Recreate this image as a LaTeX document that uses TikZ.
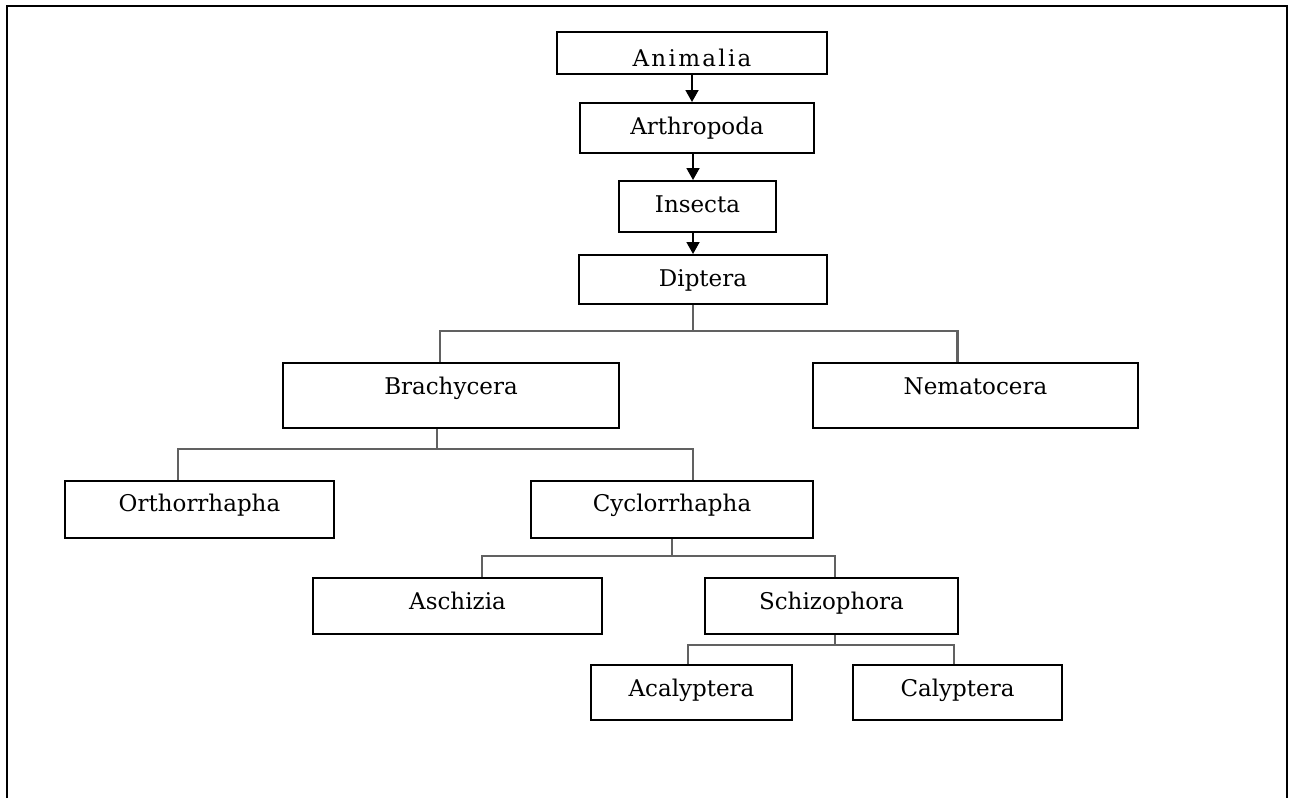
\documentclass[tikz,border=0pt]{standalone}
\usepackage{fontspec}
\setmainfont{DejaVu Serif}
\usepackage{tikz}
\usetikzlibrary{arrows.meta}

\begin{document}
\begin{tikzpicture}[x=1pt, y=-1pt,
    taxon/.style={draw=black, line width=2pt, inner sep=0pt, anchor=north,
        font=\fontsize{23pt}{27pt}\selectfont},
    step arrow/.style={line width=1.8pt, -{Triangle[width=13pt,length=12pt]}},
    branch/.style={draw=black!62, line width=2.6pt}]
    \useasboundingbox (0,0) rectangle (1289,798);

    % Frame (open at the bottom)
    \draw[line width=2.4pt] (7,798) -- (7,6) -- (1287,6) -- (1287,798);

    % Main line
    \node[taxon, minimum width=270pt, text height=34pt, text depth=8pt] (anim) at (692,31)
        {\addfontfeature{LetterSpace=10}Animalia};
    \node[taxon, minimum width=234pt, text height=31pt, text depth=19pt] (arth) at (697,102) {Arthropoda};
    \node[taxon, minimum width=157pt, text height=31pt, text depth=20pt] (ins) at (697.5,180) {Insecta};
    \node[taxon, minimum width=248pt, text height=31pt, text depth=18pt] (dipt) at (703,254) {Diptera};

    \draw[step arrow] (anim.south) -- (anim.south |- arth.north);
    \draw[step arrow] ([xshift=-4pt]arth.south) -- ([xshift=-4pt]arth.south |- ins.north);
    \draw[step arrow] ([xshift=-4.5pt]ins.south) -- ([xshift=-4.5pt]ins.south |- dipt.north);

    % Suborders
    \node[taxon, minimum width=336pt, text height=31pt, text depth=34pt] (brach) at (451,362) {Brachycera};
    \node[taxon, minimum width=325pt, text height=31pt, text depth=34pt] (nema) at (975.5,362) {Nematocera};

    \draw[branch] ([xshift=-10pt]dipt.south) -- ++(0,26) coordinate (dbar);
    \draw[branch] ([xshift=-11pt]brach.north) |- (dbar) -| ([xshift=-18pt]nema.north);

    % Brachycera
    \node[taxon, minimum width=269pt, text height=30pt, text depth=27pt] (orth) at (199.5,480) {Orthorrhapha};
    \node[taxon, minimum width=282pt, text height=30pt, text depth=27pt] (cycl) at (672,480) {Cyclorrhapha};

    \draw[branch] ([xshift=-14pt]brach.south) -- ++(0,20) coordinate (bbar);
    \draw[branch] ([xshift=-21.5pt]orth.north) |- (bbar) -| ([xshift=21pt]cycl.north);

    % Cyclorrhapha
    \node[taxon, minimum width=289pt, text height=31pt, text depth=25pt] (asch) at (457.5,577) {Aschizia};
    \node[taxon, minimum width=253pt, text height=31pt, text depth=25pt] (schi) at (831.5,577) {Schizophora};

    \draw[branch] (cycl.south) -- ++(0,17) coordinate (cbar);
    \draw[branch] ([xshift=24.5pt]asch.north) |- (cbar) -| ([xshift=3.5pt]schi.north);

    % Schizophora
    \node[taxon, minimum width=201pt, text height=31pt, text depth=24pt] (acal) at (691.5,664) {Acalyptera};
    \node[taxon, minimum width=209pt, text height=31pt, text depth=24pt] (caly) at (957.5,664) {Calyptera};

    \draw[branch] ([xshift=3.5pt]schi.south) -- ++(0,10) coordinate (sbar);
    \draw[branch] ([xshift=-3.5pt]acal.north) |- (sbar) -| ([xshift=-3.5pt]caly.north);
\end{tikzpicture}
\end{document}
